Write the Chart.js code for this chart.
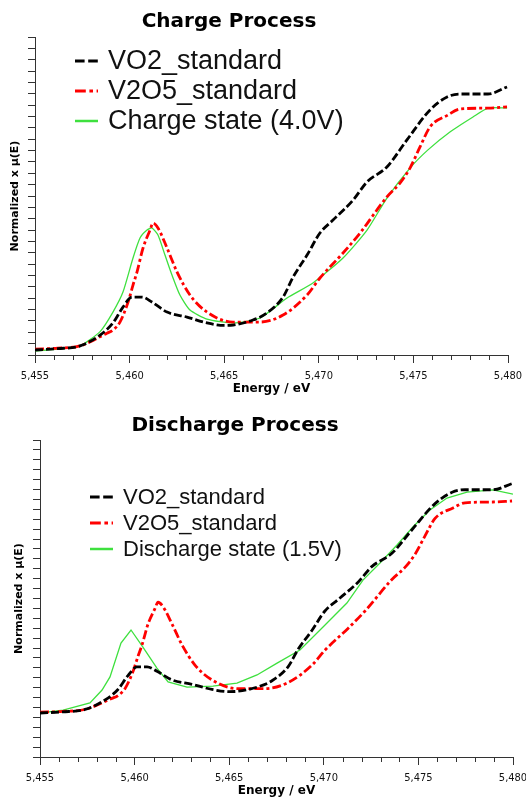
<!DOCTYPE html>
<html>
<head>
<meta charset="utf-8">
<script src="https://cdn.jsdelivr.net/npm/chart.js@4.4.1/dist/chart.umd.min.js"></script>
<style>
  html, body { margin: 0; padding: 0; background: #fff; }
  canvas { display: block; }
</style>
</head>
<body>
<canvas id="chargeChart" width="526" height="400"></canvas>
<canvas id="dischargeChart" width="526" height="398"></canvas>
<script>
// ─── data ───
const energyTicks = [5455, 5460, 5465, 5470, 5475, 5480];

const vo2E  = [5455.0, 5456.2, 5457.38, 5458.44, 5459.12, 5459.65, 5460.13, 5460.66, 5461.18, 5461.98, 5463.03, 5464.09, 5465.0, 5465.47, 5466.52, 5467.26, 5468.11, 5468.64, 5469.38, 5470.06, 5470.75, 5471.81, 5472.55, 5473.6, 5474.66, 5475.88, 5476.78, 5477.46, 5478.94, 5479.95];
const vo2Mu = [0.022, 0.028, 0.040, 0.088, 0.141, 0.211, 0.255, 0.255, 0.233, 0.189, 0.167, 0.141, 0.130, 0.132, 0.154, 0.185, 0.255, 0.343, 0.440, 0.537, 0.594, 0.682, 0.762, 0.828, 0.947, 1.079, 1.136, 1.149, 1.149, 1.180];

const v2o5E  = [5455.0, 5456.2, 5457.38, 5458.8, 5459.12, 5459.49, 5459.92, 5460.18, 5460.39, 5460.71, 5461.08, 5461.24, 5461.5, 5461.98, 5462.51, 5463.19, 5464.09, 5465.47, 5466.89, 5468.11, 5469.38, 5470.06, 5471.28, 5472.18, 5473.6, 5474.29, 5474.82, 5475.35, 5475.88, 5476.83, 5477.46, 5478.94, 5479.95];
const v2o5Mu = [0.026, 0.030, 0.040, 0.096, 0.110, 0.145, 0.233, 0.308, 0.365, 0.471, 0.550, 0.581, 0.559, 0.471, 0.365, 0.264, 0.189, 0.145, 0.145, 0.176, 0.264, 0.339, 0.449, 0.537, 0.696, 0.757, 0.823, 0.916, 1.004, 1.057, 1.083, 1.087, 1.092];

const chargeE  = [5455.0, 5456.2, 5457.38, 5458.44, 5459.12, 5459.65, 5460.18, 5460.55, 5460.92, 5461.18, 5461.5, 5461.87, 5462.24, 5462.66, 5463.19, 5464.09, 5465.47, 5466.89, 5468.32, 5469.69, 5471.28, 5472.55, 5473.6, 5474.82, 5475.77, 5476.93, 5478.15, 5478.94, 5479.95];
const chargeMu = [0.018, 0.026, 0.040, 0.103, 0.189, 0.277, 0.427, 0.515, 0.550, 0.559, 0.528, 0.440, 0.352, 0.264, 0.198, 0.158, 0.141, 0.163, 0.251, 0.317, 0.427, 0.550, 0.691, 0.823, 0.903, 0.982, 1.048, 1.087, 1.087];

const dischargeE  = [5455.0, 5456.22, 5457.64, 5458.28, 5458.7, 5459.28, 5459.81, 5460.44, 5461.18, 5461.77, 5462.77, 5464.14, 5465.41, 5466.47, 5467.53, 5468.74, 5469.96, 5471.22, 5472.07, 5472.97, 5473.87, 5474.71, 5475.61, 5476.51, 5477.57, 5478.94, 5480.0];
const dischargeMu = [0.022, 0.037, 0.073, 0.138, 0.204, 0.375, 0.441, 0.355, 0.249, 0.179, 0.153, 0.158, 0.173, 0.214, 0.274, 0.340, 0.456, 0.577, 0.693, 0.779, 0.870, 0.961, 1.047, 1.107, 1.137, 1.148, 1.127];

const pts = (xs, ys) => xs.map((x, i) => ({ x, y: ys[i] }));

// ─── styles ───
const axisColor = '#333';
const tickFont = { family: "'DejaVu Sans Condensed', 'Liberation Sans Narrow', sans-serif", size: 11 };
const boldFont = (size) => ({ family: "'DejaVu Sans', sans-serif", weight: 'bold', size });

const vo2Style  = { borderColor: '#000000', borderWidth: 2.8, borderDash: [8, 3] };
const v2o5Style = { borderColor: '#ff0000', borderWidth: 2.8, borderDash: [9, 3, 3, 3] };
const greenStyle = { borderColor: '#3ee03e', borderWidth: 1.3, borderDash: [] };

// titles, minor ticks and in-plot legend
const overlay = {
  id: 'overlay',
  afterDraw(chart, args, o) {
    const { ctx, chartArea } = chart;
    const xs = chart.scales.x;
    ctx.save();
    // minor ticks on energy axis
    ctx.strokeStyle = axisColor; ctx.lineWidth = 1;
    for (let v = xs.min; v <= xs.max; v++) {
      if (v % 5 === 0) continue;
      const px = Math.round(xs.getPixelForValue(v)) + 0.5;
      ctx.beginPath(); ctx.moveTo(px, chartArea.bottom); ctx.lineTo(px, chartArea.bottom + 5); ctx.stroke();
    }
    // title
    ctx.fillStyle = '#000';
    ctx.font = 'bold 20px "DejaVu Sans"';
    ctx.textAlign = 'center'; ctx.textBaseline = 'alphabetic';
    ctx.fillText(o.title, o.titleX, o.titleY);
    // legend
    ctx.font = o.legendSize + 'px "Liberation Sans"';
    ctx.textAlign = 'left'; ctx.textBaseline = 'middle';
    chart.data.datasets.forEach((ds, i) => {
      const y = o.legendY + i * o.legendGap;
      ctx.strokeStyle = ds.borderColor; ctx.lineWidth = Math.max(ds.borderWidth, 2.5);
      ctx.setLineDash(ds.borderDash.length ? ds.borderDash.map(d => d * 1.2) : []);
      ctx.beginPath(); ctx.moveTo(o.legendX, y); ctx.lineTo(o.legendX + 23, y); ctx.stroke();
      ctx.setLineDash([]);
      ctx.fillStyle = '#111';
      ctx.fillText(ds.label, o.legendX + 33, y + 1);
    });
    ctx.restore();
  }
};

function makeChart(id, cfg) {
  return new Chart(document.getElementById(id), {
    type: 'line',
    data: {
      datasets: [
        { label: 'VO2_standard', data: pts(vo2E, vo2Mu), ...vo2Style, cubicInterpolationMode: 'monotone' },
        { label: 'V2O5_standard', data: pts(v2o5E, v2o5Mu), ...v2o5Style, cubicInterpolationMode: 'monotone' },
        { label: cfg.sampleLabel, data: cfg.sample, ...greenStyle, tension: cfg.tension }
      ]
    },
    plugins: [overlay],
    options: {
      responsive: false, animation: false,
      layout: { padding: { top: cfg.top, right: cfg.right, left: 0, bottom: 0 } },
      elements: { point: { radius: 0 } },
      plugins: {
        legend: { display: false }, tooltip: { enabled: false },
        overlay: cfg.overlay
      },
      scales: {
        x: {
          type: 'linear', min: 5455, max: 5480,
          afterFit: s => { s.height = cfg.xHeight; s.paddingLeft = 0; s.paddingRight = 0; },
          afterBuildTicks: s => { s.ticks = energyTicks.map(v => ({ value: v })); },
          ticks: { color: '#111', font: tickFont, padding: 7, maxRotation: 0, autoSkip: false,
                   callback: v => v.toLocaleString('en-US') },
          grid: { drawOnChartArea: false, tickLength: 8, color: axisColor },
          border: { color: axisColor, width: 1 },
          title: { display: true, text: 'Energy / eV', color: '#000', font: boldFont(12),
                   padding: { top: 0, bottom: cfg.xTitlePad } }
        },
        y: {
          min: cfg.yMin, max: 1.4,
          afterFit: s => { s.width = cfg.yWidth; s.paddingTop = 0; s.paddingBottom = 0; },
          ticks: { display: false, stepSize: 0.05, autoSkip: false },
          grid: { drawOnChartArea: false, tickLength: 7, color: axisColor },
          border: { color: axisColor, width: 1 },
          title: { display: true, text: 'Normalized x μ(E)', color: '#000', font: boldFont(11),
                   padding: { top: cfg.yTitlePad, bottom: 0 } }
        }
      }
    }
  });
}

makeChart('chargeChart', {
  sampleLabel: 'Charge state (4.0V)', sample: pts(chargeE, chargeMu), tension: 0.2,
  top: 37, right: 18, xHeight: 45, yWidth: 35, yMin: 0, xTitlePad: 4, yTitlePad: 9,
  overlay: { title: 'Charge Process', titleX: 229, titleY: 27, legendX: 75, legendY: 61, legendGap: 30, legendSize: 27 }
});

makeChart('dischargeChart', {
  sampleLabel: 'Discharge state (1.5V)', sample: pts(dischargeE, dischargeMu), tension: 0,
  top: 40, right: 13, xHeight: 41, yWidth: 40, yMin: -0.2, xTitlePad: 0, yTitlePad: 13,
  overlay: { title: 'Discharge Process', titleX: 235, titleY: 31, legendX: 90, legendY: 97, legendGap: 26, legendSize: 22 }
});
</script>
</body>
</html>
